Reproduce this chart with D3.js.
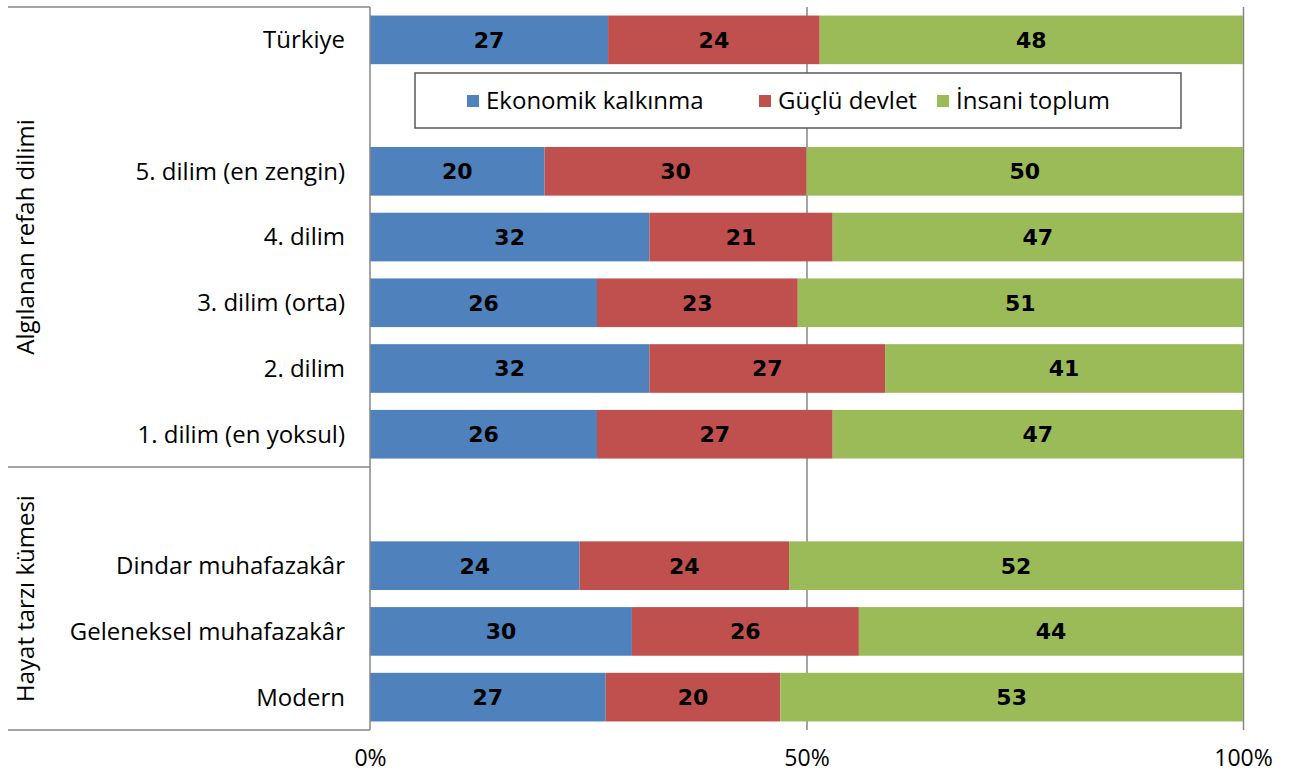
<!DOCTYPE html>
<html>
<head>
<meta charset="utf-8">
<script src="https://cdn.jsdelivr.net/npm/d3@7"></script>
<style>
  html, body { margin: 0; padding: 0; background: #fff; }
  svg { display: block; }
  text { font-family: "Open Sans", "Noto Sans", sans-serif; fill: #000; }
</style>
</head>
<body>
<svg id="chart" width="1295" height="776"></svg>
<script>
// ---- data ----
const categories = ["Türkiye", "", "5. dilim (en zengin)", "4. dilim", "3. dilim (orta)", "2. dilim", "1. dilim (en yoksul)", " ", "Dindar muhafazakâr", "Geleneksel muhafazakâr", "Modern"];
const seriesNames = ["Ekonomik kalkınma", "Güçlü devlet", "İnsani toplum"];
const ekonomik = [27, null, 20, 32, 26, 32, 26, null, 24, 30, 27];
const gucluDevlet = [24, null, 30, 21, 23, 27, 27, null, 24, 26, 20];
const insani = [48, null, 50, 47, 51, 41, 47, null, 52, 44, 53];
const groups = [
  { label: "Algılanan refah dilimi", from: 0, to: 6 },
  { label: "Hayat tarzı kümesi", from: 7, to: 10 }
];
const tickValues = [0, 50, 100];
const colors = ["#4F81BD", "#C0504D", "#9BBB59"];

// ---- layout ----
const svg = d3.select("#chart");
const plot = { left: 370, right: 1243, top: 7, bottom: 730 };
const labelSize = "24px";

const x = d3.scaleLinear().domain([0, 100]).range([plot.left, plot.right]);
const y = d3.scaleBand().domain(categories).range([plot.top, plot.bottom])
  .paddingInner(0.26).paddingOuter(0.13);
const yFull = d3.scaleBand().domain(categories).range([plot.top, plot.bottom]).padding(0);

const rows = categories.map((c, i) => ({ cat: c, v: [ekonomik[i], gucluDevlet[i], insani[i]] }))
  .filter(r => r.v[0] != null);

const stack = d3.stack()
  .keys([0, 1, 2])
  .value((d, k) => d.v[k])
  .offset(d3.stackOffsetExpand);
const stacked = stack(rows);

const gridColor = "#868686";

// gridlines
svg.append("g")
  .attr("transform", `translate(0,${plot.bottom})`)
  .call(d3.axisBottom(x).tickValues([50, 100]).tickSize(plot.bottom - plot.top).tickFormat(""))
  .call(g => g.select(".domain").remove())
  .call(g => g.selectAll("line").attr("stroke", gridColor).attr("stroke-width", 1.5)
    .attr("y1", 0).attr("y2", -(plot.bottom - plot.top)));

// bars
const layer = svg.append("g").selectAll("g").data(stacked).join("g")
  .attr("fill", (d, i) => colors[i]);
layer.selectAll("rect").data(d => d).join("rect")
  .attr("x", d => x(d[0] * 100))
  .attr("width", d => x(d[1] * 100) - x(d[0] * 100))
  .attr("y", d => y(d.data.cat))
  .attr("height", y.bandwidth());

// value labels
const lbl = svg.append("g").selectAll("g").data(stacked).join("g");
lbl.selectAll("text").data((d) => d.map(p => ({ p, k: d.key }))).join("text")
  .attr("x", d => (x(d.p[0] * 100) + x(d.p[1] * 100)) / 2)
  .attr("y", d => y(d.p.data.cat) + y.bandwidth() / 2)
  .attr("dy", "0.36em")
  .attr("text-anchor", "middle")
  .style("font-family", "'DejaVu Sans', sans-serif")
  .style("font-weight", "bold")
  .style("font-size", "22px")
  .text(d => d.p.data.v[d.k]);

// category axis (left)
svg.append("line").attr("x1", plot.left).attr("x2", plot.left)
  .attr("y1", plot.top).attr("y2", plot.bottom)
  .attr("stroke", gridColor).attr("stroke-width", 1.5);

svg.append("g").selectAll("text").data(categories.filter(c => c.trim() !== "")).join("text")
  .attr("x", 345)
  .attr("y", d => y(d) + y.bandwidth() / 2)
  .attr("dy", "0.35em")
  .attr("text-anchor", "end")
  .style("font-size", labelSize)
  .text(d => d);

// group boundary lines
const boundaries = [plot.top, yFull(categories[groups[1].from]), plot.bottom];
svg.append("g").selectAll("line").data(boundaries).join("line")
  .attr("x1", 8).attr("x2", plot.left)
  .attr("y1", d => d).attr("y2", d => d)
  .attr("stroke", gridColor).attr("stroke-width", 1.5);

// group labels
svg.append("g").selectAll("text").data(groups).join("text")
  .attr("transform", g => {
    const y0 = yFull(categories[g.from]);
    const y1 = yFull(categories[g.to]) + yFull.bandwidth();
    return `translate(26,${(y0 + y1) / 2}) rotate(-90)`;
  })
  .attr("dy", "0.35em")
  .attr("text-anchor", "middle")
  .style("font-size", labelSize)
  .text(g => g.label);

// x axis tick labels
svg.append("g")
  .attr("transform", `translate(0,${plot.bottom})`)
  .call(d3.axisBottom(x).tickValues(tickValues).tickSize(0).tickPadding(20).tickFormat(d => d + "%"))
  .call(g => g.select(".domain").remove())
  .call(g => g.selectAll("text").style("font-size", "23px")
    .style("font-family", "'Open Sans', 'Noto Sans', sans-serif").attr("fill", "#000"));

// legend
const legend = svg.append("g");
legend.append("rect")
  .attr("x", 415).attr("y", 73).attr("width", 766).attr("height", 55)
  .attr("fill", "#fff").attr("stroke", "#595959").attr("stroke-width", 1.5);
const legendX = [467, 759, 937];
const li = legend.selectAll("g.item").data(seriesNames).join("g").attr("class", "item")
  .attr("transform", (d, i) => `translate(${legendX[i]},101)`);
li.append("rect").attr("x", 0).attr("y", -6).attr("width", 12).attr("height", 12)
  .attr("fill", (d, i) => colors[i]);
li.append("text").attr("x", 19).attr("dy", "0.35em")
  .style("font-size", labelSize).text(d => d);
</script>
</body>
</html>
